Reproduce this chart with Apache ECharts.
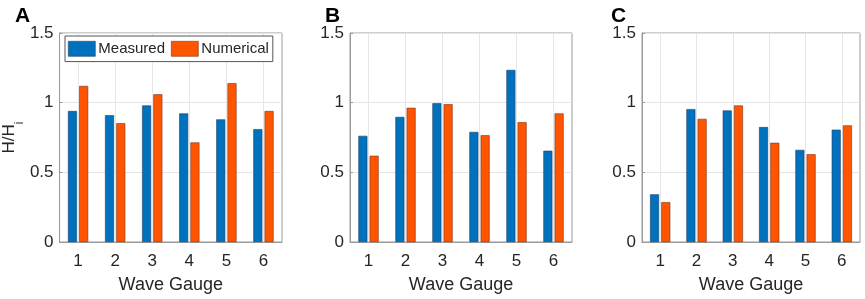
<!DOCTYPE html>
<html>
<head>
<meta charset="utf-8">
<script src="https://cdn.jsdelivr.net/npm/echarts@6/dist/echarts.min.js"></script>
<style>
  html, body { margin: 0; padding: 0; background: #fff; }
  #chart { width: 865px; height: 299px; }
</style>
</head>
<body>
<div id="chart"></div>
<script>
const gauges = ['1', '2', '3', '4', '5', '6'];
const panelLabels = ['A', 'B', 'C'];
const yTicks = [0, 0.5, 1, 1.5];

const measuredA = [0.94, 0.91, 0.98, 0.923, 0.88, 0.81];
const numericalA = [1.12, 0.853, 1.06, 0.715, 1.14, 0.94];
const measuredB = [0.762, 0.898, 0.996, 0.79, 1.235, 0.655];
const numericalB = [0.619, 0.963, 0.989, 0.766, 0.86, 0.923];
const measuredC = [0.342, 0.954, 0.944, 0.825, 0.661, 0.806];
const numericalC = [0.286, 0.884, 0.98, 0.712, 0.63, 0.837];

const measured = [measuredA, measuredB, measuredC];
const numerical = [numericalA, numericalB, numericalC];

// half-step positions (edges and centres) used only for the vertical grid lines
const halfSteps = ['0.5'].concat(...gauges.map(g => [g, String(Number(g) + 0.5)]));

const txt = '#262626';
const boxColor = '#9a9a9a';
const gridColor = '#e6e6e6';
const font = 'Liberation Sans, Arial, Helvetica, sans-serif';

const grids = [
  { left: 59, top: 33, width: 223, height: 214 },
  { left: 350, top: 33, width: 222, height: 214 },
  { left: 642, top: 33, width: 218, height: 214 }
];

const chart = echarts.init(document.getElementById('chart'));

const xAxes = grids.map((g, i) => ({
  type: 'category',
  gridIndex: i,
  data: gauges,
  axisLine: { lineStyle: { color: boxColor } },
  axisTick: { inside: true, alignWithLabel: true, length: 3, lineStyle: { color: boxColor } },
  axisLabel: { color: txt, fontSize: 17, fontFamily: font, margin: 11 },
  splitLine: { show: false },
  name: 'Wave Gauge',
  nameLocation: 'middle',
  nameGap: 34,
  nameTextStyle: { color: txt, fontSize: 18, fontFamily: font }
}));

const gridLineAxes = grids.map((g, i) => ({
  type: 'category',
  gridIndex: i,
  data: halfSteps,
  boundaryGap: false,
  position: 'top',
  axisLine: { show: false },
  axisTick: { show: false },
  axisLabel: { show: false },
  splitLine: {
    show: true,
    interval: idx => idx % 2 === 1,
    lineStyle: { color: gridColor }
  }
}));

const yAxes = grids.map((g, i) => ({
  type: 'value',
  gridIndex: i,
  min: yTicks[0],
  max: yTicks[yTicks.length - 1],
  interval: 0.5,
  axisLine: { show: true, lineStyle: { color: boxColor } },
  axisTick: { show: true, inside: true, length: 3, lineStyle: { color: boxColor } },
  axisLabel: { color: txt, fontSize: 17, fontFamily: font, margin: 6 },
  splitLine: { show: true, lineStyle: { color: gridColor } },
  name: i === 0 ? '{n|H/H}{s|i}' : '',
  nameLocation: 'middle',
  nameGap: 40,
  nameRotate: 90,
  nameTextStyle: {
    rich: {
      n: { color: txt, fontSize: 17, fontFamily: font },
      s: { color: txt, fontSize: 12, fontFamily: font, verticalAlign: 'bottom', padding: [0, 0, -8, 0] }
    }
  }
}));

const series = [];
grids.forEach((g, i) => {
  series.push({
    name: 'Measured',
    type: 'bar',
    xAxisIndex: i,
    yAxisIndex: i,
    data: measured[i],
    barWidth: 9,
    barGap: '25%',
    itemStyle: { color: '#0072BD', borderColor: '#1f3f66', borderWidth: 0.6 }
  });
  series.push({
    name: 'Numerical',
    type: 'bar',
    xAxisIndex: i,
    yAxisIndex: i,
    data: numerical[i],
    barWidth: 9,
    itemStyle: { color: '#FF5500', borderColor: '#7a3414', borderWidth: 0.6 }
  });
});

const option = {
  animation: false,
  title: panelLabels.map((t, i) => ({
    text: t,
    left: [10, 320, 606][i],
    top: 1,
    textStyle: { color: '#000', fontSize: 21, fontWeight: 'bold', fontFamily: font }
  })),
  legend: {
    data: ['Measured', 'Numerical'],
    left: 65,
    top: 36,
    icon: 'rect',
    itemWidth: 27,
    itemHeight: 15,
    itemGap: 6,
    padding: [5, 4, 5, 3],
    backgroundColor: '#fff',
    borderColor: '#555',
    borderWidth: 1,
    borderRadius: 0,
    textStyle: { color: txt, fontSize: 15, fontFamily: font, padding: [0, 0, 0, -2] },
    itemStyle: { borderWidth: 0.6 }
  },
  grid: grids.map(g => Object.assign({ show: true, borderColor: boxColor, borderWidth: 1, backgroundColor: 'transparent' }, g)),
  xAxis: xAxes.concat(gridLineAxes),
  yAxis: yAxes,
  series: series
};

chart.setOption(option);
</script>
</body>
</html>
